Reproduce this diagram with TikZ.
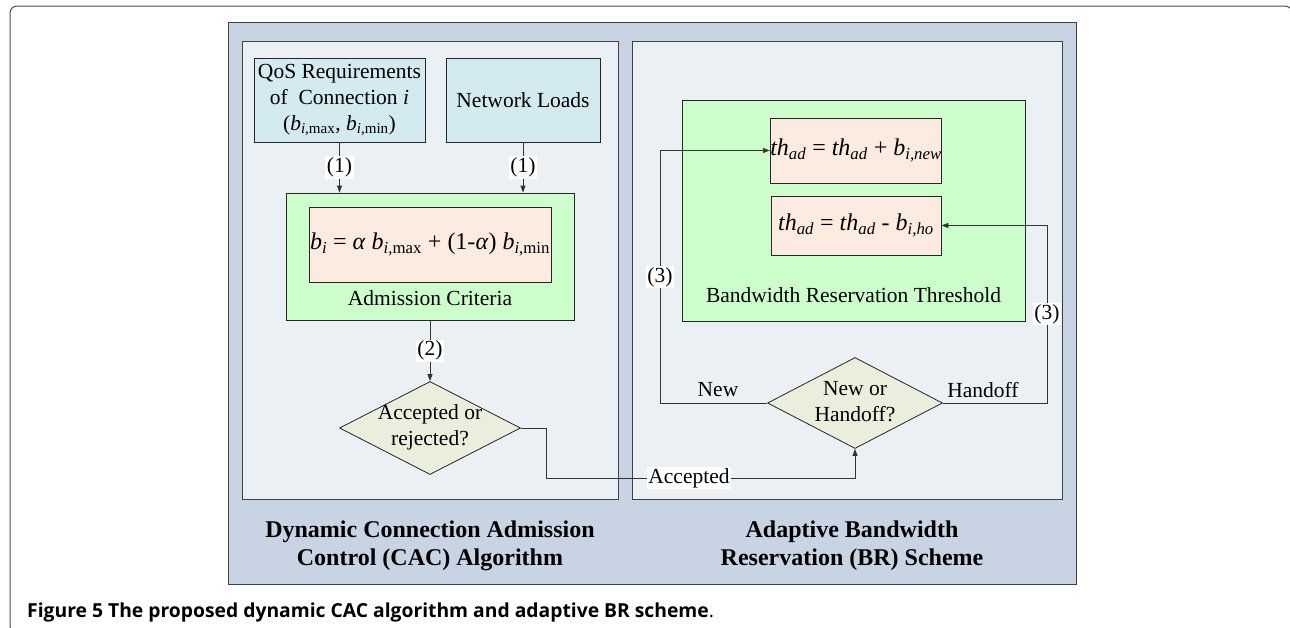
\documentclass[tikz,border=0pt]{standalone}
\usepackage{fontspec}
\usepackage{amsmath}
\setmainfont{Liberation Serif}
\newfontfamily\capfont{Open Sans}
\usetikzlibrary{shapes.geometric,arrows.meta}
\definecolor{bluepanel}{HTML}{C8D4E3}
\definecolor{innerpanel}{HTML}{EBF0F5}
\definecolor{cyanbox}{HTML}{D2EAF0}
\definecolor{greenbox}{HTML}{CCFFCC}
\definecolor{pinkbox}{HTML}{FCEBE0}
\definecolor{diafill}{HTML}{EBEEDD}
\newcommand\fs{\fontsize{21.5}{26}\selectfont}
\newcommand\fml{\fontsize{24}{28}\selectfont}
\newcommand\ttl{\fontsize{24}{28}\selectfont\bfseries}
\newcommand\sbs[1]{\textsubscript{#1}}
\tikzset{
  panel/.style={draw=black!75, line width=0.9pt},
  box/.style={draw=black!85, line width=0.8pt, inner sep=0pt, align=center, font=\fs},
  dia/.style={shape=diamond, draw=black!85, fill=diafill, line width=0.8pt, inner sep=0pt},
  lbl/.style={fill=white, inner sep=1.5pt, font=\fs},
  plain/.style={inner sep=0pt, font=\fs, align=center},
  conn/.style={draw=black!80, line width=0.8pt},
  arr/.style={conn, -{Triangle[length=7pt,width=5pt]}}
}
\begin{document}
\begin{tikzpicture}[x=1pt,y=-1pt]
\useasboundingbox (0,0) rectangle (1290,627);
% outer frame
\draw[rounded corners=7pt, line width=1pt, black!70] (10,6) rectangle (1292,633);
% panels
\node[panel, fill=bluepanel, minimum width=848, minimum height=562, inner sep=0pt] (blue) at (652,303) {};
\node[panel, fill=innerpanel, minimum width=376, minimum height=458, inner sep=0pt] (leftp) at (430,270) {};
\node[panel, fill=innerpanel, minimum width=430, minimum height=458, inner sep=0pt] (rightp) at (847,270) {};
% left side
\node[box, fill=cyanbox, minimum width=171, minimum height=84] (qos) at (339.5,100)
  {QoS Requirements\\of\ \ Connection \textit{i}\\(\textit{b}\sbs{\textit{i},max}, \textit{b}\sbs{\textit{i},min})};
\node[box, fill=cyanbox, minimum width=154, minimum height=84] (net) at (523,100) {Network Loads};
\node[box, fill=greenbox, minimum width=288, minimum height=127] (adm) at (430,256.5) {};
\node[box, fill=pinkbox, minimum width=242, minimum height=75, font=\fml] (frm) at (430,244.5)
  {\textit{b}\sbs{\textit{i}} = \textit{α} \textit{b}\sbs{\textit{i},max} + (1-\textit{α}) \textit{b}\sbs{\textit{i},min}};
\node[plain] (admlbl) at (430,298) {Admission Criteria};
\node[dia, minimum width=181, minimum height=93] (dia1) at (430,428) {};
\node[plain] (dia1t) at (430,427) {Accepted or\\rejected?};
\draw[arr] (qos.south) -- (qos.south |- adm.north) node[lbl, midway] (l1a) {(1)};
\draw[arr] (net.south) -- (net.south |- adm.north) node[lbl, midway] (l1b) {(1)};
\draw[arr] (adm.south) -- (dia1.north) node[lbl, midway] (l2) {(2)};
% right side
\node[box, fill=greenbox, minimum width=343, minimum height=221] (brt) at (853.5,210.5) {};
\node[box, fill=pinkbox, minimum width=170, minimum height=65, font=\fml] (th1) at (856,150.5)
  {\textit{th}\sbs{\textit{ad}} = \textit{th}\sbs{\textit{ad}} + \textit{b}\sbs{\textit{i,new}}};
\node[box, fill=pinkbox, minimum width=170, minimum height=59, font=\fml] (th2) at (856,225.5)
  {\textit{th}\sbs{\textit{ad}} = \textit{th}\sbs{\textit{ad}} - \textit{b}\sbs{\textit{i,ho}}};
\node[plain] (brtlbl) at (853.5,295) {Bandwidth Reservation Threshold};
\node[dia, minimum width=175, minimum height=91] (dia2) at (855,403) {};
\node[plain] (dia2t) at (855,402) {New or\\Handoff?};
% connectors
\coordinate (nw) at (660,403);
\coordinate (hw) at (1047,403);
\coordinate (acc) at (546,478);
\draw[arr] (dia2.west) -- (nw) |- (th1.west);
\draw[arr] (dia2.east) -- (hw) |- (th2.east);
\draw[arr] (dia1.east) -| (acc) -| (dia2.south);
\node[lbl] (l3a) at (660,277) {(3)};
\node[lbl] (l3b) at (1047,314) {(3)};
\node[lbl] (accl) at (689,478) {Accepted};
\node[plain] (newl) at (718,390) {New};
\node[plain] (hol) at (983,390) {Handoff};
% titles
\node[plain, font=\ttl] (t1) at (430,546) {Dynamic Connection Admission\\Control (CAC) Algorithm};
\node[plain, font=\ttl] (t2) at (852,546) {Adaptive Bandwidth\\Reservation (BR) Scheme};
% caption
\node[anchor=base west, inner sep=0pt, font=\capfont\fontsize{19.3}{22}\selectfont] (cap) at (27,617)
  {\textbf{Figure 5 The proposed dynamic CAC algorithm and adaptive BR scheme}.};
\end{tikzpicture}
\end{document}
